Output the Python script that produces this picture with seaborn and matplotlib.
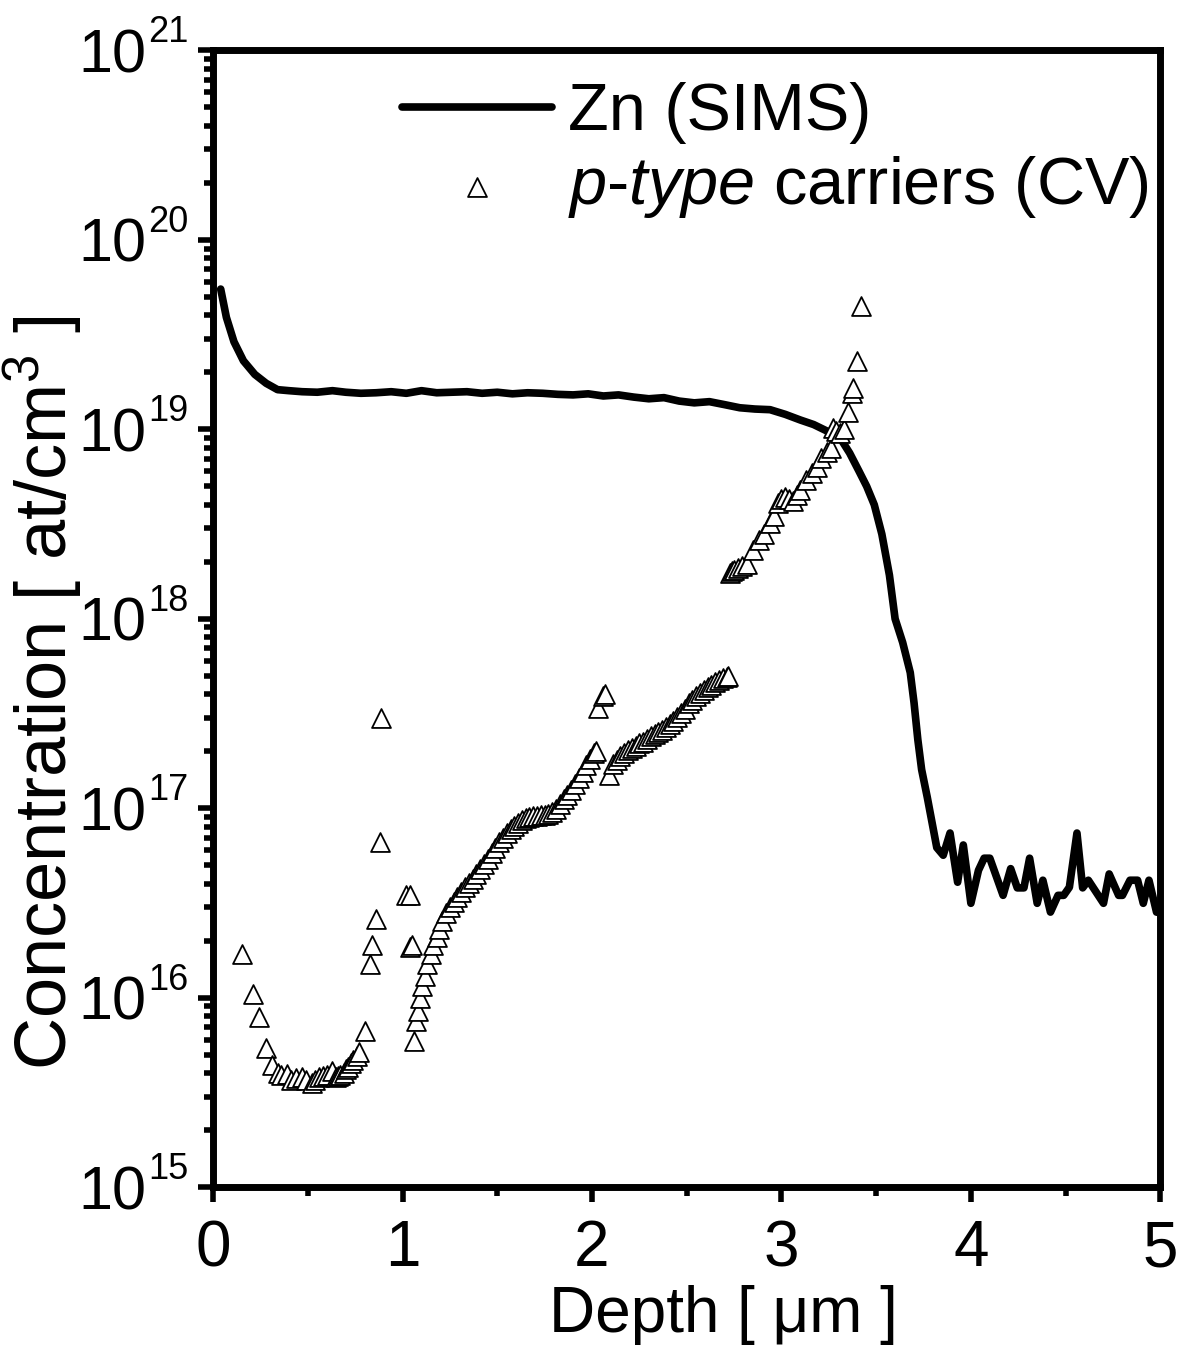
import numpy as np
import pandas as pd
import matplotlib
matplotlib.use("Agg")
import matplotlib.pyplot as plt
import seaborn as sns
from matplotlib.ticker import LogLocator, MultipleLocator, FixedLocator

# Zn SIMS profile (depth in um, concentration in at/cm3)
zn_depth = [0.04, 0.07, 0.11, 0.16, 0.22, 0.28, 0.34, 0.40, 0.47, 0.55, 0.63, 0.70,
            0.78, 0.86, 0.94, 1.02, 1.10, 1.18, 1.26, 1.34, 1.42, 1.50, 1.58, 1.66,
            1.74, 1.82, 1.90, 1.98, 2.06, 2.14, 2.22, 2.30, 2.38, 2.46, 2.54, 2.62,
            2.70, 2.78, 2.86, 2.94, 3.02, 3.10, 3.17, 3.24, 3.31, 3.36, 3.41, 3.45,
            3.49, 3.53, 3.57, 3.60, 3.64, 3.68, 3.70, 3.72, 3.74, 3.77, 3.82, 3.854,
            3.89, 3.93, 3.96, 4.00, 4.04, 4.07, 4.10, 4.17, 4.21, 4.245, 4.28, 4.31,
            4.35, 4.38, 4.42, 4.46, 4.49, 4.52, 4.56, 4.59, 4.62, 4.70, 4.73, 4.78,
            4.80, 4.84, 4.88, 4.91, 4.94, 4.98, 5.02]
zn_conc = [5.5e19, 3.9e19, 2.9e19, 2.3e19, 1.95e19, 1.75e19, 1.62e19, 1.6e19, 1.58e19,
           1.57e19, 1.6e19, 1.57e19, 1.55e19, 1.56e19, 1.58e19, 1.55e19, 1.6e19, 1.56e19,
           1.57e19, 1.58e19, 1.55e19, 1.57e19, 1.54e19, 1.56e19, 1.55e19, 1.53e19,
           1.52e19, 1.54e19, 1.5e19, 1.52e19, 1.48e19, 1.45e19, 1.47e19, 1.41e19,
           1.38e19, 1.4e19, 1.35e19, 1.3e19, 1.28e19, 1.27e19, 1.2e19, 1.12e19, 1.06e19,
           9.8e18, 9.0e18, 7.5e18, 6.0e18, 5.0e18, 4.0e18, 2.8e18, 1.7e18, 1.0e18,
           7.5e17, 5.2e17, 3.6e17, 2.3e17, 1.6e17, 1.14e17, 6.2e16, 5.65e16,
           7.4e16, 4.07e16, 6.4e16, 3.15e16, 4.7e16, 5.45e16, 5.45e16, 3.47e16, 4.8e16,
           3.8e16, 3.8e16, 5.45e16, 3.15e16, 4.17e16, 2.83e16, 3.47e16, 3.47e16,
           3.83e16, 7.4e16, 3.8e16, 4.17e16, 3.15e16, 4.5e16, 3.47e16, 3.47e16,
           4.17e16, 4.17e16, 3.15e16, 4.17e16, 2.83e16, 2.8e16]

# p-type carriers from CV
cv_depth = [0.15, 0.21, 0.24, 0.28, 0.31, 0.34, 0.36, 0.39, 0.41, 0.44, 0.47, 0.49,
            0.52, 0.54, 0.56, 0.58, 0.60, 0.63, 0.65, 0.66, 0.67, 0.69, 0.70, 0.71,
            0.73, 0.74, 0.76, 0.77, 0.80, 0.83, 0.84, 0.86, 0.88, 0.885,
            1.02, 1.04, 1.04, 1.05, 1.06, 1.07, 1.08, 1.09, 1.10, 1.12, 1.13, 1.15,
            1.16, 1.18, 1.19, 1.21, 1.23, 1.25, 1.27, 1.29, 1.31, 1.33, 1.35, 1.37,
            1.39, 1.41, 1.43, 1.45, 1.47, 1.49, 1.51, 1.53, 1.55, 1.57, 1.59, 1.61,
            1.63, 1.65, 1.67, 1.69, 1.71, 1.73, 1.75, 1.77, 1.79, 1.81, 1.83, 1.85,
            1.87, 1.89, 1.91, 1.93, 1.95, 1.97, 1.99, 2.01, 2.02,
            2.03, 2.06, 2.07, 2.09, 2.11, 2.13, 2.15, 2.17, 2.19, 2.21, 2.23, 2.25,
            2.27, 2.29, 2.31, 2.33, 2.35, 2.37, 2.39, 2.41, 2.43, 2.45, 2.47, 2.49,
            2.51, 2.53, 2.55, 2.57, 2.59, 2.61, 2.63, 2.65, 2.67, 2.69, 2.71, 2.72,
            2.73, 2.74, 2.75, 2.77, 2.79, 2.82, 2.85, 2.88, 2.91, 2.94, 2.96, 2.98,
            3.00, 3.02, 3.04, 3.06, 3.08, 3.10, 3.13, 3.16, 3.19, 3.21, 3.24, 3.26,
            3.27, 3.29, 3.31, 3.33, 3.35, 3.37, 3.38, 3.40, 3.42]
cv_conc = [1.7e16, 1.05e16, 7.9e15, 5.4e15, 4.4e15, 4.0e15, 3.9e15, 3.95e15, 3.7e15,
           3.75e15, 3.8e15, 3.7e15, 3.55e15, 3.7e15, 3.8e15, 3.85e15, 3.9e15, 4.1e15,
           3.8e15, 3.85e15, 3.9e15, 4.0e15, 4.2e15, 4.3e15, 4.5e15, 4.7e15, 4.9e15,
           5.2e15, 6.7e15, 1.5e16, 1.9e16, 2.6e16, 6.6e16, 3.0e17,
           3.5e16, 3.5e16, 1.85e16, 1.9e16, 5.9e15, 7.5e15, 8.5e15, 1.0e16, 1.15e16,
           1.3e16, 1.5e16, 1.7e16, 1.9e16, 2.1e16, 2.3e16, 2.55e16, 2.8e16, 3.0e16,
           3.2e16, 3.4e16, 3.6e16, 3.85e16, 4.05e16, 4.25e16, 4.5e16, 4.8e16, 5.1e16,
           5.4e16, 5.8e16, 6.2e16, 6.6e16, 7.0e16, 7.4e16, 7.8e16, 8.1e16, 8.4e16,
           8.7e16, 8.9e16, 9.0e16, 9.1e16, 9.15e16, 9.2e16, 9.25e16, 9.3e16, 9.5e16,
           9.9e16, 1.05e17, 1.12e17, 1.18e17, 1.25e17, 1.35e17, 1.45e17, 1.55e17,
           1.7e17, 1.82e17, 1.95e17, 2.0e17,
           3.4e17, 3.9e17, 4.0e17, 1.5e17, 1.72e17, 1.8e17, 1.88e17, 1.95e17, 2.02e17,
           2.08e17, 2.14e17, 2.2e17, 2.25e17, 2.32e17, 2.4e17, 2.46e17, 2.52e17,
           2.6e17, 2.7e17, 2.8e17, 2.9e17, 3.05e17, 3.2e17, 3.35e17,
           3.6e17, 3.75e17, 3.9e17, 4.05e17, 4.2e17, 4.35e17, 4.5e17, 4.62e17,
           4.75e17, 4.85e17, 4.95e17, 5.0e17,
           1.74e18, 1.78e18, 1.8e18, 1.85e18, 1.9e18, 1.95e18, 2.3e18, 2.6e18, 2.8e18,
           3.2e18, 3.5e18, 4.1e18, 4.3e18, 4.4e18, 4.3e18, 4.2e18, 4.5e18, 4.8e18,
           5.4e18, 5.9e18, 6.3e18, 7.1e18, 7.6e18, 8.0e18, 1.02e19, 9.8e18, 9.6e18,
           1.0e19, 1.23e19, 1.55e19, 1.66e19, 2.3e19, 4.5e19]

# decade exponents for the y tick labels
y_exponents = [15, 16, 17, 18, 19, 20, 21]

zn = pd.DataFrame({"depth": zn_depth, "conc": zn_conc})
cv = pd.DataFrame({"depth": cv_depth, "conc": cv_conc})

sns.set_style("ticks")
plt.rcParams['font.family'] = ['Liberation Sans', 'DejaVu Sans']
plt.rcParams['mathtext.fontset'] = 'custom'
plt.rcParams['mathtext.rm'] = 'Liberation Sans'
plt.rcParams['mathtext.it'] = 'Liberation Sans:italic'
for key in ['text.color', 'axes.labelcolor', 'xtick.color', 'ytick.color', 'axes.edgecolor']:
    plt.rcParams[key] = 'black'

fig = plt.figure(figsize=(11.84, 13.63), dpi=100)
ax = fig.add_axes([0.180, 0.129, 0.800, 0.834])

sns.lineplot(data=zn, x="depth", y="conc", ax=ax, color="black", linewidth=5.5,
             sort=False, label="Zn (SIMS)", solid_joinstyle="round")
sns.scatterplot(data=cv, x="depth", y="conc", ax=ax, marker="^", s=185,
                facecolor="white", edgecolor="black", linewidth=1.3,
                label=r"$\mathit{p}$-$\mathit{type}$ carriers (CV)", zorder=3)

ax.set_yscale("log")
ax.set_xlim(0, 5)
ax.set_ylim(1e15, 1e21)

ax.xaxis.set_major_locator(MultipleLocator(1))
ax.xaxis.set_minor_locator(MultipleLocator(0.5))
ax.yaxis.set_major_locator(FixedLocator([10.0 ** e for e in y_exponents]))
ax.yaxis.set_minor_locator(LogLocator(base=10, subs=np.arange(2, 10), numticks=20))
ax.set_yticklabels(["10"] * len(y_exponents))
ax.yaxis.set_minor_formatter(plt.NullFormatter())

ax.tick_params(axis="both", which="major", direction="out", length=11, width=4,
               labelsize=46, color="black", labelcolor="black")
ax.tick_params(axis="y", which="major", labelsize=44, pad=37)
ax.tick_params(axis="both", which="minor", direction="out", length=6.5, width=4,
               color="black")
ax.tick_params(axis="x", which="major", pad=12)

# small superscript exponents next to the "10" tick labels
for e in y_exponents:
    ax.annotate(str(e), xy=(0, 10.0 ** e), xycoords=("axes fraction", "data"),
                xytext=(-47, 5.8), textcoords="offset points",
                fontsize=26, ha="left", va="baseline", annotation_clip=False)

for sp in ax.spines.values():
    sp.set_linewidth(5)
    sp.set_color("black")

ax.set_xlabel(r"Depth [ μm ]", fontsize=46)
ax.set_ylabel(r"Concentration [ at/cm$^3$ ]", fontsize=52)
ax.xaxis.set_label_coords(0.539, -0.086)
ax.yaxis.set_label_coords(-0.136, 0.435)

leg = ax.legend(loc="upper left", bbox_to_anchor=(0.171, 0.9956), frameon=False,
                fontsize=48, handlelength=2.25, handletextpad=0.25, labelspacing=0.15,
                borderaxespad=0, markerscale=1.0)

fig.savefig("out.png", dpi=100, facecolor="white")
